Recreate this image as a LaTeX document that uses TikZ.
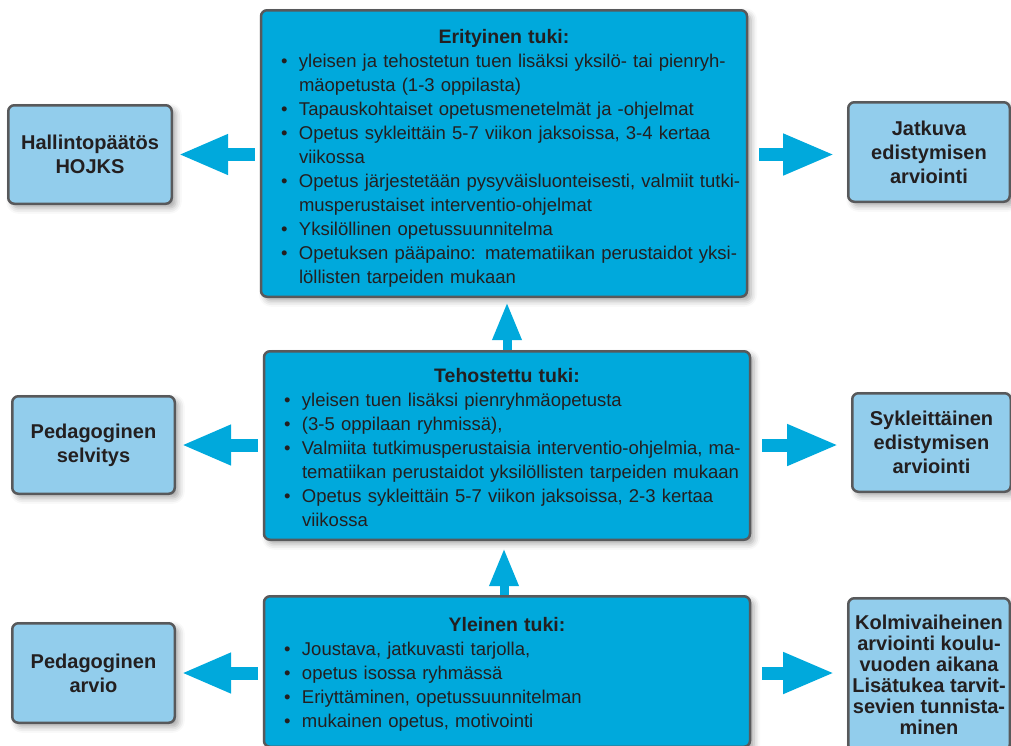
\documentclass[tikz,border=0pt]{standalone}
\usepackage{fontspec}
\setmainfont{Liberation Sans}
\usetikzlibrary{arrows.meta,shadows.blur}
\definecolor{cmain}{RGB}{0,169,220}
\definecolor{clight}{RGB}{146,205,236}
\definecolor{cborder}{RGB}{88,89,91}
\definecolor{ctext}{RGB}{35,31,32}
\newcommand\bl[1]{\hspace*{20pt}\makebox[18pt][l]{\textbullet}\mbox{#1}}
\newcommand\cl[1]{\hspace*{38pt}\mbox{#1}}
\newcommand\tit[2]{\makebox[486pt][c]{\rule{0pt}{#1}\fontsize{19.5}{24}\selectfont\bfseries #2}}
\tikzset{
  shad/.style={blur shadow={shadow xshift=4pt, shadow yshift=-4pt, shadow blur radius=6pt, shadow opacity=35}},
  cbox/.style={shad, draw=cborder, fill=cmain, line width=2.5pt, rounded corners=6pt,
    inner xsep=0pt, inner ysep=0pt, text width=486pt, align=left,
    font=\fontsize{18.5}{24}\selectfont, text=ctext},
  sbox/.style={shad, draw=cborder, fill=clight, line width=2.5pt, rounded corners=6pt,
    inner sep=0pt, align=center, font=\fontsize{20}{24}\selectfont\bfseries, text=ctext},
  larrow/.style={draw=cmain, line width=13pt, -{Triangle[length=50pt,width=37pt]},
    shorten <=5pt, shorten >=5pt},
  rarrow/.style={draw=cmain, line width=13pt, -{Triangle[length=52pt,width=38pt]},
    shorten <=11pt, shorten >=12pt},
  uarrow/.style={draw=cmain, line width=9pt, -{Triangle[length=38pt,width=27pt]}}
}
\begin{document}
\begin{tikzpicture}[x=1pt,y=-1pt]
\useasboundingbox (0,0) rectangle (1011,745);
% center boxes
\node[cbox, minimum height=286.5pt] (c1) at (504,153.5) {%
\tit{24pt}{Erityinen tuki:}\\
\bl{yleisen ja tehostetun tuen lisäksi yksilö- tai pienryh-}\\
\cl{mäopetusta (1-3 oppilasta)}\\
\bl{Tapauskohtaiset opetusmenetelmät ja -ohjelmat}\\
\bl{Opetus sykleittäin 5-7 viikon jaksoissa, 3-4 kertaa}\\
\cl{viikossa}\\
\bl{Opetus järjestetään pysyväisluonteisesti, valmiit tutki-}\\
\cl{musperustaiset interventio-ohjelmat}\\
\bl{Yksilöllinen opetussuunnitelma}\\
\bl{Opetuksen pääpaino: matematiikan perustaidot yksi-}\\
\cl{löllisten tarpeiden mukaan}};
\node[cbox, minimum height=188.5pt] (c2) at (507,445.5) {%
\tit{18.5pt}{Tehostettu tuki:}\\
\bl{yleisen tuen lisäksi pienryhmäopetusta}\\
\bl{(3-5 oppilaan ryhmissä),}\\
\bl{Valmiita tutkimusperustaisia interventio-ohjelmia, ma-}\\
\cl{tematiikan perustaidot yksilöllisten tarpeiden mukaan}\\
\bl{Opetus sykleittäin 5-7 viikon jaksoissa, 2-3 kertaa}\\
\cl{viikossa}};
\node[cbox, minimum height=150.5pt] (c3) at (507,671.5) {%
\tit{19pt}{Yleinen tuki:}\\
\bl{Joustava, jatkuvasti tarjolla,}\\
\bl{opetus isossa ryhmässä}\\
\bl{Eriyttäminen, opetussuunnitelman}\\
\bl{mukainen opetus, motivointi}};
% side boxes
\node[sbox, minimum width=163.5pt, minimum height=98.5pt] (h) at (90,154.5) {Hallintopäätös\\HOJKS};
\node[sbox, minimum width=162.5pt, minimum height=97.5pt] (p1) at (93.5,445) {Pedagoginen\\selvitys};
\node[sbox, minimum width=162.5pt, minimum height=99.5pt] (p2) at (93.5,673) {Pedagoginen\\arvio};
\node[sbox, minimum width=161.5pt, minimum height=99.5pt] (j) at (929,152) {Jatkuva\\edistymisen\\arviointi};
\node[sbox, minimum width=158.5pt, minimum height=98.5pt] (s) at (931.5,442.5) {Sykleittäinen\\edistymisen\\arviointi};
\node[sbox, minimum width=161.5pt, minimum height=152.5pt, font=\fontsize{20}{21}\selectfont\bfseries] (k) at (929,674.5) {Kolmivaiheinen\\arviointi koulu-\\vuoden aikana\\Lisätukea tarvit-\\sevien tunnista-\\minen};
% arrows
\draw[larrow] (c1.west |- h.east) -- (h.east);
\draw[larrow] (c2.west |- p1.east) -- (p1.east);
\draw[larrow] (c3.west |- p2.east) -- (p2.east);
\draw[rarrow] (c1.east |- h.east) -- (j.west |- h.east);
\draw[rarrow] (c2.east |- p1.east) -- (s.west |- p1.east);
\draw[rarrow] (c3.east |- p2.east) -- (k.west |- p2.east);
\draw[uarrow, shorten >=4pt] (c2.north) -- (c2.north |- c1.south);
\draw[uarrow, shorten >=7pt] ([xshift=-3pt]c3.north) -- ([xshift=-3pt]c3.north |- c2.south);
\end{tikzpicture}
\end{document}
